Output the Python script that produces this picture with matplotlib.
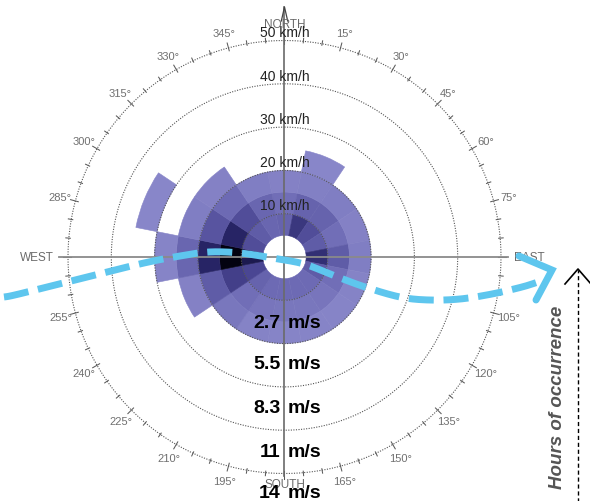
import numpy as np
import matplotlib
matplotlib.use("Agg")
import matplotlib.pyplot as plt
from matplotlib.colors import LinearSegmentedColormap, Normalize

plt.rcParams['font.family'] = ['Liberation Sans', 'DejaVu Sans']

# ---------------- data ----------------
directions = ['N', 'NNE', 'NE', 'ENE', 'E', 'ESE', 'SE', 'SSE',
              'S', 'SSW', 'SW', 'WSW', 'W', 'WNW', 'NW', 'NNW']
dir_deg = np.arange(16) * 22.5
speed_bins_kmh = [5, 10, 15, 20, 25, 30, 35]   # bin edges (km/h)
# hours of occurrence per direction, one list per speed bin
hours_5_10 = [126, 213, 170, 140, 228, 140, 112, 112, 112, 112, 126, 184, 265, 170, 140, 120]
hours_10_15 = [97, 126, 126, 97, 140, 97, 74, 68, 68, 74, 97, 198, 300, 248, 170, 120]
hours_15_20 = [33, 39, 45, 33, 45, 27, 25, 25, 25, 27, 68, 140, 248, 155, 112, 45]
hours_20_25 = [0, 16, 0, 0, 0, 0, 0, 0, 0, 0, 0, 33, 120, 45, 33, 0]
hours_25_30 = [0, 0, 0, 0, 0, 0, 0, 0, 0, 0, 0, 0, 25, 0, 0, 0]
hours_30_35 = [0, 0, 0, 0, 0, 0, 0, 0, 0, 0, 0, 0, 0, 16, 0, 0]
hours = [hours_5_10, hours_10_15, hours_15_20, hours_20_25, hours_25_30, hours_30_35]

ring_kmh = [10, 20, 30, 40, 50]
ms_labels = ['2.7', '5.5', '8.3', '11', '14']
deg_labels = [d for d in range(15, 360, 15) if d % 90 != 0]
cardinals = ['NORTH', 'EAST', 'SOUTH', 'WEST']

# ---------------- figure ----------------
W, H = 590, 502
fig = plt.figure(figsize=(W / 100, H / 100), dpi=100)
fig.patch.set_facecolor('white')

k = 216.5 / 50.0          # px per km/h
RMAX = 60.0
Rpx = RMAX * k
cx, cy = 284.5, H - 258.0
ax = fig.add_axes([(cx - Rpx) / W, (cy - Rpx) / H, 2 * Rpx / W, 2 * Rpx / H],
                  projection='polar')
ax.set_theta_zero_location('N')
ax.set_theta_direction(-1)
ax.set_ylim(0, RMAX)
ax.axis('off')

cmap = LinearSegmentedColormap.from_list(
    'hrs', [(0, '#8a88ca'), (0.35, '#6d6ab4'), (0.6, '#4a4693'),
            (0.85, '#232060'), (1.0, '#030210')])
norm = Normalize(vmin=10, vmax=300)

width = np.deg2rad(22.5)
for j, row in enumerate(hours):
    lo, hi = speed_bins_kmh[j], speed_bins_kmh[j + 1]
    for i, h in enumerate(row):
        if h <= 0:
            continue
        c = cmap(norm(h))
        ax.bar(np.deg2rad(dir_deg[i]), hi - lo, width=width, bottom=lo,
               color=c, edgecolor=c, linewidth=0.4, zorder=2)

# rings
th = np.linspace(0, 2 * np.pi, 721)
for r in ring_kmh:
    ax.plot(th, np.full_like(th, r), color='#555555', lw=0.8,
            ls=(0, (1, 1.3)), zorder=3)

# degree ticks
for d in range(0, 360, 5):
    t = np.deg2rad(d)
    if d % 15 == 0:
        r0, r1 = 213.5 / k, 221.5 / k
    else:
        r0, r1 = 215 / k, 219.5 / k
    ax.plot([t, t], [r0, r1], color='#5a5a5a', lw=0.75, zorder=3)

for d in deg_labels:
    ax.text(np.deg2rad(d), 232 / k, f'{d}°', ha='center', va='center',
            fontsize=8, color='#707070')

# axis lines
ax.plot([np.deg2rad(270), np.deg2rad(270)], [0, 225.5 / k], color='#8a8a8a', lw=1.3, zorder=4)
ax.plot([np.deg2rad(90), np.deg2rad(90)], [0, 223.5 / k], color='#8a8a8a', lw=1.3, zorder=4)
ax.plot([0, 0], [0, 250 / k], color='#6a6a6a', lw=1.2, zorder=4)
ax.plot([np.pi, np.pi], [0, 219 / k], color='#6a6a6a', lw=1.2, zorder=4)
a = np.arctan(3.2 / 236)
ax.plot([-a, 0, a], [236 / k, 250 / k, 236 / k], color='#444444', lw=0.9, zorder=4)

# cardinal labels
card_pos = {'NORTH': (0, 233), 'EAST': (90, 244.5), 'SOUTH': (180, 227), 'WEST': (270, 247.5)}
for name in cardinals:
    d, r = card_pos[name]
    ax.text(np.deg2rad(d), r / k, name, ha='center', va='center',
            fontsize=8.5, color='#6a6a6a', zorder=5)

# km/h ring labels
for r in ring_kmh:
    ax.text(0, r + 1.9, f'{r} km/h', ha='center', va='center',
            fontsize=10, color='#222222', zorder=6)

# ---------------- overlay annotations (pixel coordinates) ----------------
ov = fig.add_axes([0, 0, 1, 1])
ov.set_xlim(0, W)
ov.set_ylim(H, 0)
ov.axis('off')
ov.patch.set_alpha(0)


def catmull(px, py, n=14):
    P = np.column_stack([px, py]).astype(float)
    P = np.vstack([P[0], P, P[-1]])
    out = []
    t = np.linspace(0, 1, n, endpoint=False)[:, None]
    for i in range(1, len(P) - 2):
        p0, p1, p2, p3 = P[i - 1], P[i], P[i + 1], P[i + 2]
        out.append(0.5 * (2 * p1 + (-p0 + p2) * t + (2 * p0 - 5 * p1 + 4 * p2 - p3) * t ** 2
                          + (-p0 + 3 * p1 - 3 * p2 + p3) * t ** 3))
    out.append(P[-2][None, :])
    return np.vstack(out)


curve_x = [4, 19, 87, 144, 180, 209, 240, 272, 304, 335, 365, 400, 429, 460, 492, 522, 538]
curve_y = [298, 295, 278, 264, 257, 253, 254, 259, 265, 277, 288, 298, 301, 300, 295, 288, 283]
cv = catmull(curve_x, curve_y)
blue = '#5ec6ee'
ov.plot(cv[:, 0], cv[:, 1], color=blue, lw=5, ls=(0, (3.6, 1.4)),
        dash_capstyle='butt', zorder=10)
ov.plot([519, 552, 536], [257, 271, 301], color=blue, lw=5,
        solid_capstyle='round', solid_joinstyle='miter', zorder=10)

# m/s labels
ms_baseline = [328, 369, 413, 457, 498]
for lab, yb in zip(ms_labels, ms_baseline):
    ov.text(280.5, yb, lab, ha='right', va='baseline', fontsize=14,
            fontweight='bold', color='black', zorder=11)
    ov.text(287.5, yb, 'm/s', ha='left', va='baseline', fontsize=14,
            fontweight='bold', color='black', zorder=11)

# hours of occurrence
ov.text(557, 397, 'Hours of occurrence', rotation=90, ha='center', va='center',
        fontsize=13.5, style='italic', fontweight='bold', color='#555555')
ov.plot([578, 578], [506, 271], color='black', lw=1.0, ls=(0, (3, 2)))
ov.plot([565, 578, 591], [285, 270, 285], color='black', lw=1.2)

fig.savefig('out.png', dpi=100, facecolor='white')
